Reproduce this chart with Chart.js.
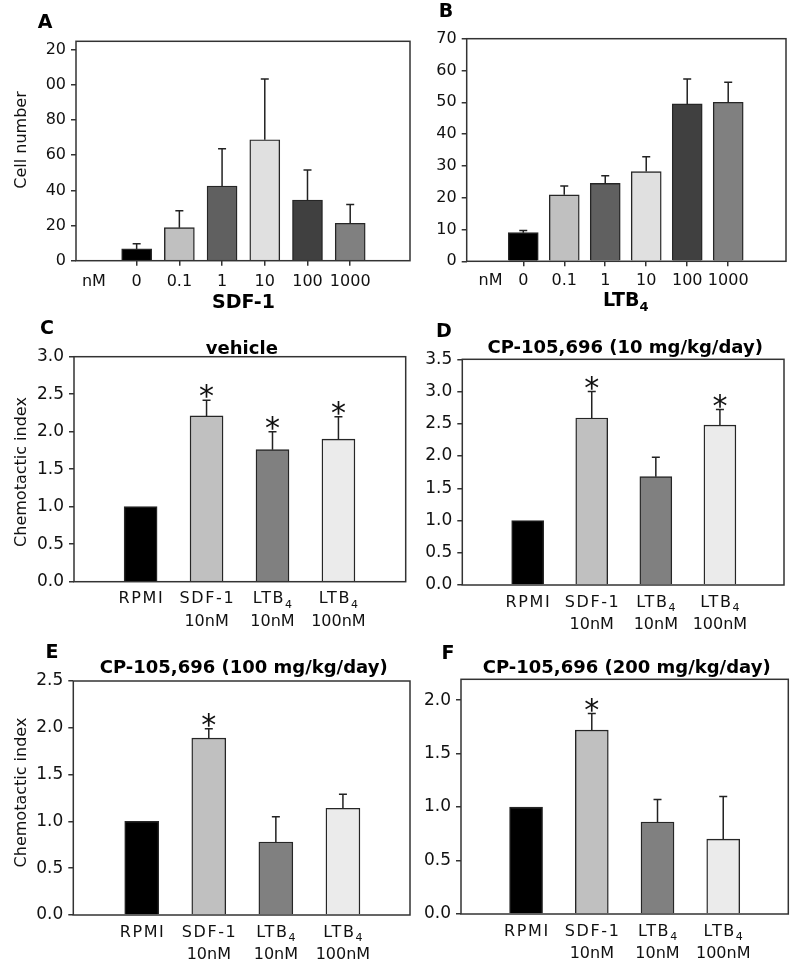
<!DOCTYPE html>
<html>
<head>
<meta charset="utf-8">
<script src="https://cdn.jsdelivr.net/npm/chart.js@4.4.1/dist/chart.umd.min.js"></script>
<style>
  body { margin: 0; background: #fff; width: 800px; height: 974px; position: relative; overflow: hidden; }
  canvas { position: absolute; }
</style>
</head>
<body>
<canvas id="cA"></canvas>
<canvas id="cB"></canvas>
<canvas id="cC"></canvas>
<canvas id="cD"></canvas>
<canvas id="cE"></canvas>
<canvas id="cF"></canvas>
<script>
// ---- data ----
const doseLabels = ["0", "0.1", "1", "10", "100", "1000"];
const doseColors = ["#000000", "#c0c0c0", "#606060", "#e0e0e0", "#404040", "#808080"];

const sdfCells = [6.7, 18.8, 42.5, 68.8, 34.5, 21.3];
const sdfErr   = [3.0, 9.6, 21.2, 34.6, 17.1, 10.6];
const cellTicksA = [0, 20, 40, 60, 80, 100, 120];
const cellTickLabelsA = ["0", "20", "40", "60", "80", "00", "20"];

const ltbCells = [9.0, 20.9, 24.5, 28.2, 49.5, 50.0];
const ltbErr   = [0.7, 2.8, 2.4, 4.7, 7.8, 6.3];
const cellTicksB = [0, 10, 20, 30, 40, 50, 60, 70];

const groupLabels = [["RPMI"], ["SDF-1", "10nM"], ["LTB\u2084", "10nM"], ["LTB\u2084", "100nM"]];
const groupColors = ["#000000", "#c0c0c0", "#808080", "#ebebeb"];

const vehicleIdx = [1.0, 2.21, 1.76, 1.90];
const vehicleErr = [0, 0.21, 0.24, 0.30];
const vehicleSig = [false, true, true, true];
const ticksC = [0, 0.5, 1.0, 1.5, 2.0, 2.5, 3.0];

const cp10Idx = [1.0, 2.59, 1.68, 2.48];
const cp10Err = [0, 0.41, 0.30, 0.24];
const cp10Sig = [false, true, false, true];
const ticksD = [0, 0.5, 1.0, 1.5, 2.0, 2.5, 3.0, 3.5];

const cp100Idx = [1.0, 1.89, 0.78, 1.14];
const cp100Err = [0, 0.10, 0.27, 0.15];
const cp100Sig = [false, true, false, false];
const ticksE = [0, 0.5, 1.0, 1.5, 2.0, 2.5];

const cp200Idx = [1.0, 1.72, 0.86, 0.70];
const cp200Err = [0, 0.155, 0.21, 0.40];
const cp200Sig = [false, true, false, false];
const ticksF = [0, 0.5, 1.0, 1.5, 2.0];

const FAM = "'DejaVu Sans', sans-serif";
Chart.defaults.font.family = FAM;
Chart.defaults.color = "#111";

// text with a trailing subscript digit (LTB₄) drawn as a smaller, lowered run
function drawRich(ctx, text, x, y, size, weight, spacing) {
  const m = text.match(/^(.*?)([\u2080-\u2089]+)$/);
  ctx.textAlign = "left";
  ctx.textBaseline = "alphabetic";
  ctx.letterSpacing = (spacing || 0) + "px";
  ctx.font = weight + " " + size + "px " + FAM;
  if (!m) {
    const w = ctx.measureText(text).width - (spacing || 0);
    ctx.fillText(text, x - w / 2, y);
    ctx.letterSpacing = "0px";
    return;
  }
  const main = m[1];
  const sub = m[2].split("").map(c => String.fromCharCode(c.charCodeAt(0) - 0x2080 + 48)).join("");
  const w1 = ctx.measureText(main).width;
  ctx.letterSpacing = "0px";
  const subSize = Math.round(size * 0.66);
  ctx.font = weight + " " + subSize + "px " + FAM;
  const w2 = ctx.measureText(sub).width;
  const x0 = x - (w1 + w2) / 2;
  ctx.font = weight + " " + size + "px " + FAM;
  ctx.letterSpacing = (spacing || 0) + "px";
  ctx.fillText(main, x0, y);
  ctx.letterSpacing = "0px";
  ctx.font = weight + " " + subSize + "px " + FAM;
  ctx.fillText(sub, x0 + w1, y + size * 0.28);
}

// error bars, stars, frame, category labels and the free texts
const decor = {
  id: "decor",
  afterDatasetsDraw(chart, args, o) {
    const ctx = chart.ctx;
    const ys = chart.scales.y;
    const meta = chart.getDatasetMeta(0);
    ctx.save();
    ctx.strokeStyle = "#222";
    ctx.lineWidth = 1.5;
    meta.data.forEach((bar, i) => {
      const e = o.err[i];
      if (!e) return;
      const top = ys.getPixelForValue(o.values[i] + e);
      ctx.beginPath();
      ctx.moveTo(bar.x, bar.y);
      ctx.lineTo(bar.x, top);
      ctx.moveTo(bar.x - 4, top);
      ctx.lineTo(bar.x + 4, top);
      ctx.stroke();
      if (o.sig && o.sig[i]) {
        ctx.fillStyle = "#111";
        ctx.font = "30px " + FAM;
        ctx.textAlign = "center";
        ctx.textBaseline = "alphabetic";
        const m = ctx.measureText("*");
        const mid = (m.actualBoundingBoxAscent - m.actualBoundingBoxDescent) / 2;
        ctx.fillText("*", bar.x, top - 9 + mid);
      }
    });
    ctx.restore();
  },
  afterDraw(chart, args, o) {
    const ctx = chart.ctx;
    const a = chart.chartArea;
    const xs = chart.scales.x;
    ctx.save();
    ctx.strokeStyle = "#333";
    ctx.lineWidth = 1.5;
    ctx.strokeRect(a.left, a.top, a.right - a.left, a.bottom - a.top);
    ctx.fillStyle = "#111";

    // category labels
    o.labels.forEach((lab, i) => {
      const px = xs.getPixelForValue(i + o.first);
      const lines = Array.isArray(lab) ? lab : [lab];
      lines.forEach((ln, k) => {
        const first = k === 0 && Array.isArray(lab);
        drawRich(ctx, ln, px, a.bottom + o.labelDy[k], 16, "normal", first ? 1.6 : 0);
      });
    });
    if (o.nmAt !== undefined) drawRich(ctx, "nM", xs.getPixelForValue(o.nmAt), a.bottom + o.labelDy[0], 16, "normal", 0);

    ctx.fillStyle = "#000";
    drawRich(ctx, o.letter, o.letterX + 7, o.letterY, 19, "bold", 0);
    if (o.title) drawRich(ctx, o.title, (a.left + a.right) / 2 + 2, o.titleY, 18, "bold", 0);
    if (o.xTitle) drawRich(ctx, o.xTitle, xs.getPixelForValue(o.xTitleAt), o.xTitleY, 19, "bold", 0);
    if (o.yTitle) {
      ctx.fillStyle = "#111";
      ctx.translate(o.yTitleX, o.yTitleY);
      ctx.rotate(-Math.PI / 2);
      ctx.font = "16px " + FAM;
      ctx.textAlign = "center";
      ctx.textBaseline = "middle";
      ctx.fillText(o.yTitle, 0, 0);
    }
    ctx.restore();
  }
};

function makePanel(p) {
  const cv = document.getElementById(p.id);
  cv.width = p.canvas.w;
  cv.height = p.canvas.h;
  cv.style.left = p.canvas.x + "px";
  cv.style.top = p.canvas.y + "px";
  const ox = p.canvas.x, oy = p.canvas.y;
  const padTop = p.box.t - oy;
  const padRight = ox + p.canvas.w - p.box.r;
  const yWidth = p.box.l - ox;
  const xHeight = oy + p.canvas.h - p.box.b;

  const xPos = p.values.map((_, i) => i + p.first);

  new Chart(cv, {
    type: "bar",
    data: {
      datasets: [{
        data: p.values.map((v, i) => ({ x: xPos[i], y: v })),
        backgroundColor: p.colors,
        borderColor: "#262626",
        borderWidth: 1.4,
        barThickness: p.barW
      }]
    },
    options: {
      responsive: false,
      animation: false,
      layout: { padding: { top: padTop, right: padRight, left: 0, bottom: 0 } },
      plugins: {
        legend: { display: false },
        tooltip: { enabled: false },
        decor: {
          values: p.values, err: p.err, sig: p.sig,
          labels: p.labels, first: p.first, nmAt: p.nmAt, labelDy: p.labelDy,
          letter: p.letter, letterX: p.letterPos[0] - ox, letterY: p.letterPos[1] - oy,
          title: p.title, titleY: p.titleY - oy,
          xTitle: p.xTitle, xTitleAt: p.first + (p.values.length - 1) / 2, xTitleY: p.xTitleY - oy,
          yTitle: p.yTitle, yTitleX: p.yTitleX - ox, yTitleY: p.yTitleY - oy
        }
      },
      scales: {
        x: {
          type: "linear",
          min: p.xMin, max: p.xMax,
          offset: false,
          border: { display: false },
          grid: {
            display: p.xTicks, offset: false, drawOnChartArea: false,
            drawTicks: p.xTicks, tickLength: 5, lineWidth: 1.5, color: "#333"
          },
          afterBuildTicks: s => { s.ticks = xPos.map(v => ({ value: v })); },
          afterFit: s => { s.height = xHeight; },
          ticks: { display: false, autoSkip: false, maxRotation: 0 }
        },
        y: {
          min: 0, max: p.yMax,
          border: { display: false },
          grid: { display: true, drawOnChartArea: false, drawTicks: true, tickLength: 5, color: "#333", lineWidth: 1.5 },
          afterBuildTicks: s => { s.ticks = p.yTicks.map(v => ({ value: v })); },
          afterFit: s => { s.width = yWidth; },
          ticks: {
            padding: 5,
            font: { size: p.yFont },
            color: "#111",
            callback: (v, i) => p.yTickText ? p.yTickText[i] : v.toFixed(1)
          }
        }
      }
    },
    plugins: [decor]
  });
}

makePanel({
  id: "cA", canvas: { x: 0, y: 0, w: 420, h: 320 }, box: { l: 76, t: 41.3, r: 410, b: 260.7 },
  values: sdfCells, err: sdfErr, labels: doseLabels, colors: doseColors, first: 1, nmAt: 0,
  labelDy: [25], xMin: -0.42, xMax: 7.40, barW: 30, xTicks: true,
  yMax: 124.8, yTicks: cellTicksA, yTickText: cellTickLabelsA, yFont: 16,
  letter: "A", letterPos: [38, 28], xTitle: "SDF-1", xTitleY: 308,
  yTitle: "Cell number", yTitleX: 21.7, yTitleY: 140
});

makePanel({
  id: "cB", canvas: { x: 412, y: 0, w: 388, h: 320 }, box: { l: 466.7, t: 38.7, r: 786, b: 261.3 },
  values: ltbCells, err: ltbErr, labels: doseLabels, colors: doseColors, first: 1, nmAt: 0.2,
  labelDy: [24], xMin: -0.38, xMax: 7.41, barW: 30, xTicks: true,
  yMax: 70, yTicks: cellTicksB, yTickText: cellTicksB.map(String), yFont: 16,
  letter: "B", letterPos: [439, 17], xTitle: "LTB\u2084", xTitleY: 306
});

makePanel({
  id: "cC", canvas: { x: 0, y: 320, w: 412, h: 320 }, box: { l: 74, t: 356.7, r: 405.7, b: 581.7 },
  values: vehicleIdx, err: vehicleErr, sig: vehicleSig, labels: groupLabels, colors: groupColors, first: 0,
  labelDy: [21.6, 44], xMin: -1.01, xMax: 4.02, barW: 33, xTicks: false,
  yMax: 3.0, yTicks: ticksC, yFont: 17,
  letter: "C", letterPos: [40, 334], title: "vehicle", titleY: 354.3,
  yTitle: "Chemotactic index", yTitleX: 21.7, yTitleY: 472
});

makePanel({
  id: "cD", canvas: { x: 412, y: 320, w: 388, h: 320 }, box: { l: 462.3, t: 359.3, r: 784, b: 585 },
  values: cp10Idx, err: cp10Err, sig: cp10Sig, labels: groupLabels, colors: groupColors, first: 0,
  labelDy: [21.6, 44], xMin: -1.02, xMax: 4.0, barW: 32, xTicks: false,
  yMax: 3.5, yTicks: ticksD, yFont: 17,
  letter: "D", letterPos: [437, 337], title: "CP-105,696 (10 mg/kg/day)", titleY: 352.5
});

makePanel({
  id: "cE", canvas: { x: 0, y: 640, w: 415, h: 334 }, box: { l: 73.3, t: 681, r: 410, b: 915 },
  values: cp100Idx, err: cp100Err, sig: cp100Sig, labels: groupLabels, colors: groupColors, first: 0,
  labelDy: [21.6, 43.5], xMin: -1.02, xMax: 4.0, barW: 34, xTicks: false,
  yMax: 2.5, yTicks: ticksE, yFont: 17,
  letter: "E", letterPos: [45, 658], title: "CP-105,696 (100 mg/kg/day)", titleY: 673.3,
  yTitle: "Chemotactic index", yTitleX: 21.7, yTitleY: 792.5
});

makePanel({
  id: "cF", canvas: { x: 415, y: 640, w: 385, h: 334 }, box: { l: 461, t: 679.3, r: 788.3, b: 914 },
  values: cp200Idx, err: cp200Err, sig: cp200Sig, labels: groupLabels, colors: groupColors, first: 0,
  labelDy: [21.6, 43.5], xMin: -0.99, xMax: 3.99, barW: 33, xTicks: false,
  yMax: 2.195, yTicks: ticksF, yFont: 17,
  letter: "F", letterPos: [441, 659], title: "CP-105,696 (200 mg/kg/day)", titleY: 672.7
});
</script>
</body>
</html>
